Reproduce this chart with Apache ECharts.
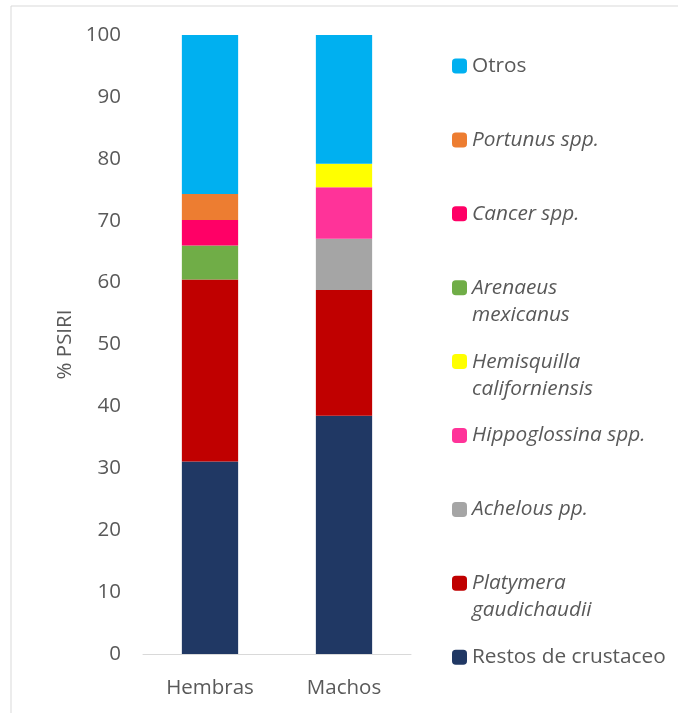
<!DOCTYPE html>
<html>
<head>
<meta charset="utf-8">
<script src="https://cdn.jsdelivr.net/npm/echarts@6/dist/echarts.min.js"></script>
<style>
  html, body { margin: 0; padding: 0; background: #fff; }
  #main { width: 678px; height: 713px; }
</style>
</head>
<body>
<div id="main"></div>
<script>
// categories and stacked values (% PSIRI), bottom of stack first
var categories = ['Hembras', 'Machos'];
var seriesNames = ['Restos de crustaceo', 'Platymera\ngaudichaudii', 'Achelous pp.', 'Hippoglossina spp.',
  'Hemisquilla\ncaliforniensis', 'Arenaeus\nmexicanus', 'Cancer spp.', 'Portunus spp.', 'Otros'];
var restos = [31.1, 38.5];
var platymera = [29.4, 20.3];
var achelous = [0, 8.3];
var hippoglossina = [0, 8.3];
var hemisquilla = [0, 3.8];
var arenaeus = [5.5, 0];
var cancer = [4.1, 0];
var portunus = [4.2, 0];
var otros = [25.8, 20.8];
var yTicks = [0, 100, 10];

var values = [restos, platymera, achelous, hippoglossina, hemisquilla, arenaeus, cancer, portunus, otros];
var colors = ['#203864', '#c00000', '#a5a5a5', '#ff3399', '#ffff00', '#70ad47', '#ff0066', '#ed7d31', '#00b0f0'];
var italic = [false, true, true, true, true, true, true, true, false];

var chart = echarts.init(document.getElementById('main'));
var font = 'Open Sans';

var series = seriesNames.map(function (name, i) {
  return {
    name: name,
    type: 'bar',
    stack: 'total',
    barWidth: '42%',
    itemStyle: { color: colors[i] },
    data: values[i]
  };
});

// one legend per entry, top to bottom = reverse of stack
var legends = [];
var order = seriesNames.slice().reverse();
order.forEach(function (name, i) {
  var idx = seriesNames.indexOf(name);
  var twoLines = name.indexOf('\n') >= 0;
  var slot = 66 + i * 73.9;
  legends.push({
    data: [name],
    left: 447,
    top: twoLines ? slot - 45.5 : slot - 18.5,
    itemWidth: 15,
    itemHeight: 15,
    itemGap: 0,
    selectedMode: false,
    formatter: function (n) { return twoLines ? ' \n' + n : n; },
    textStyle: {
      fontFamily: font,
      fontSize: 20.8,
      color: '#595959',
      fontStyle: italic[idx] ? 'italic' : 'normal',
      lineHeight: 27
    }
  });
});

chart.setOption({
  animation: false,
  color: colors,
  graphic: [{
    type: 'rect',
    shape: { x: 11, y: 6, width: 700, height: 760 },
    style: { fill: 'none', stroke: '#d9d9d9', lineWidth: 1 },
    silent: true
  }],
  grid: {
    left: 143,
    right: 267,
    top: 35,
    bottom: 59
  },
  legend: legends,
  xAxis: {
    type: 'category',
    data: categories,
    axisTick: { show: false },
    axisLine: { lineStyle: { color: '#d9d9d9', width: 1 } },
    axisLabel: { fontFamily: font, fontSize: 20.5, color: '#595959', margin: 24 }
  },
  yAxis: {
    type: 'value',
    min: yTicks[0],
    max: yTicks[1],
    interval: yTicks[2],
    name: '% PSIRI',
    nameLocation: 'middle',
    nameGap: 67,
    nameTextStyle: { fontFamily: font, fontSize: 20.5, color: '#595959' },
    splitLine: { show: false },
    axisLine: { show: false },
    axisTick: { show: false },
    axisLabel: { fontFamily: font, fontSize: 20.5, color: '#595959', margin: 22 }
  },
  series: series
});
</script>
</body>
</html>
